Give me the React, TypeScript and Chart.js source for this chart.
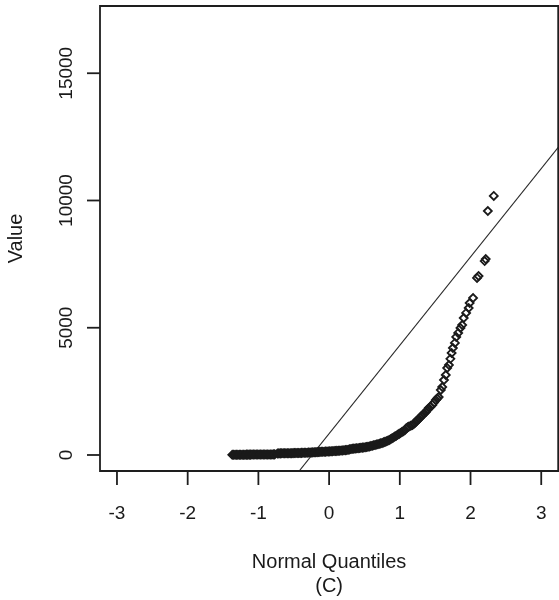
import React, { useEffect, useRef } from "react";
import { Chart, registerables } from "chart.js";

Chart.register(...registerables);

// Normal quantiles (x) and sample values (y)
const quantiles: number[] = [
  -1.37, -1.35, -1.33, -1.31, -1.29, -1.27, -1.25, -1.23, -1.21, -1.19, -1.17, -1.15, -1.13, -1.11, -1.09, -1.07,
  -1.05, -1.03, -1.01, -0.99, -0.97, -0.95, -0.93, -0.91, -0.89, -0.87, -0.85, -0.83, -0.81, -0.79, -0.77,
  -0.73, -0.71, -0.69, -0.67, -0.65, -0.63, -0.61, -0.59, -0.57, -0.55, -0.53, -0.51, -0.49, -0.47, -0.45,
  -0.43, -0.41, -0.39, -0.37, -0.35, -0.33, -0.31, -0.29, -0.27, -0.25, -0.23, -0.21, -0.19, -0.17,
  -0.15, -0.13, -0.11, -0.09, -0.07, -0.05, -0.03, -0.01, 0.01, 0.03, 0.05, 0.07, 0.09, 0.11, 0.13, 0.15,
  0.17, 0.19, 0.21, 0.23, 0.25, 0.27, 0.29,
  0.31, 0.33, 0.35, 0.37, 0.39, 0.41, 0.43, 0.45, 0.47, 0.49, 0.51, 0.53, 0.55, 0.57, 0.59, 0.61, 0.63,
  0.65, 0.67, 0.69, 0.71, 0.73, 0.75, 0.77, 0.79, 0.81, 0.83, 0.85, 0.87, 0.89, 0.91,
  0.93, 0.95, 0.97, 0.99, 1.01, 1.03, 1.05, 1.07,
  1.09, 1.11, 1.13, 1.155, 1.18, 1.2, 1.22, 1.235, 1.25, 1.27, 1.29, 1.305, 1.32, 1.345, 1.37, 1.39, 1.41,
  1.435, 1.46, 1.485, 1.51, 1.53, 1.55, 1.58, 1.6, 1.625, 1.65, 1.67,
  1.695, 1.715, 1.733, 1.751, 1.779, 1.798, 1.826, 1.858, 1.882, 1.904, 1.938, 1.974, 1.988, 2.036,
  2.092, 2.114, 2.2, 2.215, 2.245, 2.329,
];
const values: number[] = [
  8, 9, 10, 10, 11, 11, 12, 12, 13, 13, 14, 14, 15, 15, 16, 16,
  17, 17, 18, 18, 19, 19, 20, 20, 21, 21, 22, 22, 23, 24, 25,
  62, 63, 64, 65, 66, 67, 68, 69, 70, 71, 72, 73, 75, 76, 78,
  79, 81, 83, 85, 87, 89, 91, 94, 96, 99, 102, 105, 108, 112,
  117, 122, 124, 127, 130, 133, 136, 139, 142, 146, 149, 153, 157, 161, 165, 170,
  175, 180, 186, 192, 198, 205, 220,
  238, 244, 250, 256, 262, 268, 275, 282, 290, 298, 306, 315, 325, 337, 350, 365, 380,
  395, 410, 425, 440, 457, 475, 495, 515, 537, 560, 590, 620, 655, 690,
  725, 760, 795, 830, 865, 900, 935, 970,
  1050, 1085, 1120, 1150, 1180, 1230, 1280, 1330, 1375, 1420, 1470, 1520, 1572, 1630, 1690, 1770, 1847,
  1900, 1965, 2060, 2161, 2220, 2279, 2554, 2672, 2947, 3143, 3418,
  3536, 3780, 4008, 4204, 4401, 4637, 4794, 4990, 5108, 5383, 5580, 5776, 5972, 6169,
  6955, 7033, 7620, 7700, 9587, 10177,
];

// Reference line (qqline) parameters
const lineIntercept = 839;
const lineSlope = 3473;
const lineXRange: number[] = [-3.5, 3.5];

const xTicks: number[] = [-3, -2, -1, 0, 1, 2, 3];
const yTicks: number[] = [0, 5000, 10000, 15000];

const xTitle = "Normal Quantiles";
const xSubTitle = "(C)";
const yTitle = "Value";

const FONT = '"Liberation Sans", Arial, sans-serif';
const INK = "#1a1a1a";

const rAxesPlugin = {
  id: "rAxes",
  afterDraw(chart: any) {
    const { ctx, chartArea, scales } = chart;
    const xs = scales.x;
    const ys = scales.y;
    const { left, right, top, bottom } = chartArea;
    ctx.save();
    // box
    ctx.strokeStyle = "#1e1e1e";
    ctx.lineWidth = 1.8;
    ctx.beginPath();
    ctx.rect(left, top, right - left, bottom - top);
    ctx.stroke();

    // x ticks
    ctx.lineWidth = 1.8;
    ctx.fillStyle = INK;
    ctx.font = `19px ${FONT}`;
    ctx.textAlign = "center";
    ctx.textBaseline = "alphabetic";
    xTicks.forEach((t) => {
      const px = xs.getPixelForValue(t);
      ctx.beginPath();
      ctx.moveTo(px, bottom);
      ctx.lineTo(px, bottom + 14);
      ctx.stroke();
      ctx.fillText(String(t), px, 519);
    });

    // y ticks
    yTicks.forEach((t) => {
      const py = ys.getPixelForValue(t);
      ctx.beginPath();
      ctx.moveTo(left, py);
      ctx.lineTo(left - 13, py);
      ctx.stroke();
      ctx.save();
      ctx.translate(72, py);
      ctx.rotate(-Math.PI / 2);
      ctx.fillText(String(t), 0, 0);
      ctx.restore();
    });

    // titles
    ctx.font = `20px ${FONT}`;
    const cx = (left + right) / 2;
    ctx.fillText(xTitle, cx, 567.5);
    ctx.fillText(xSubTitle, cx, 592);
    ctx.save();
    ctx.translate(22, (top + bottom) / 2);
    ctx.rotate(-Math.PI / 2);
    ctx.fillText(yTitle, 0, 0);
    ctx.restore();
    ctx.restore();
  },
};

export default function App() {
  const ref = useRef<HTMLCanvasElement | null>(null);
  useEffect(() => {
    if (!ref.current) return;
    const points = quantiles.map((q, i) => ({ x: q, y: values[i] }));
    const linePts = lineXRange.map((q) => ({ x: q, y: lineIntercept + lineSlope * q }));
    const chart = new Chart(ref.current, {
      type: "scatter",
      data: {
        datasets: [
          {
            type: "line",
            data: linePts,
            borderColor: "#2a2a2a",
            borderWidth: 1.1,
            pointRadius: 0,
            fill: false,
            order: 1,
          } as any,
          {
            data: points,
            pointStyle: "rectRot",
            pointRadius: 4,
            pointBorderWidth: 1.8,
            pointBorderColor: "#1a1a1a",
            pointBackgroundColor: "rgba(0,0,0,0)",
            order: 0,
          } as any,
        ],
      },
      options: {
        responsive: false,
        maintainAspectRatio: false,
        animation: false,
        events: [],
        layout: { padding: { top: 6, left: 0, right: 0, bottom: 0 } },
        plugins: { legend: { display: false }, tooltip: { enabled: false } },
        scales: {
          x: {
            type: "linear",
            min: -3.24,
            max: 3.24,
            grid: { display: false },
            border: { display: false },
            ticks: { display: false },
            afterFit: (s: any) => {
              s.height = 129;
            },
          },
          y: {
            type: "linear",
            min: -629,
            max: 17642,
            grid: { display: false },
            border: { display: false },
            ticks: { display: false },
            afterFit: (s: any) => {
              s.width = 100;
            },
          },
        },
      },
      plugins: [rAxesPlugin],
    });
    return () => chart.destroy();
  }, []);
  return (
    <div
      style={{
        position: "fixed",
        left: 0,
        top: 0,
        width: 559,
        height: 600,
        overflow: "hidden",
        background: "#fff",
      }}
    >
      <canvas ref={ref} width={564} height={600} style={{ display: "block" }} />
    </div>
  );
}
